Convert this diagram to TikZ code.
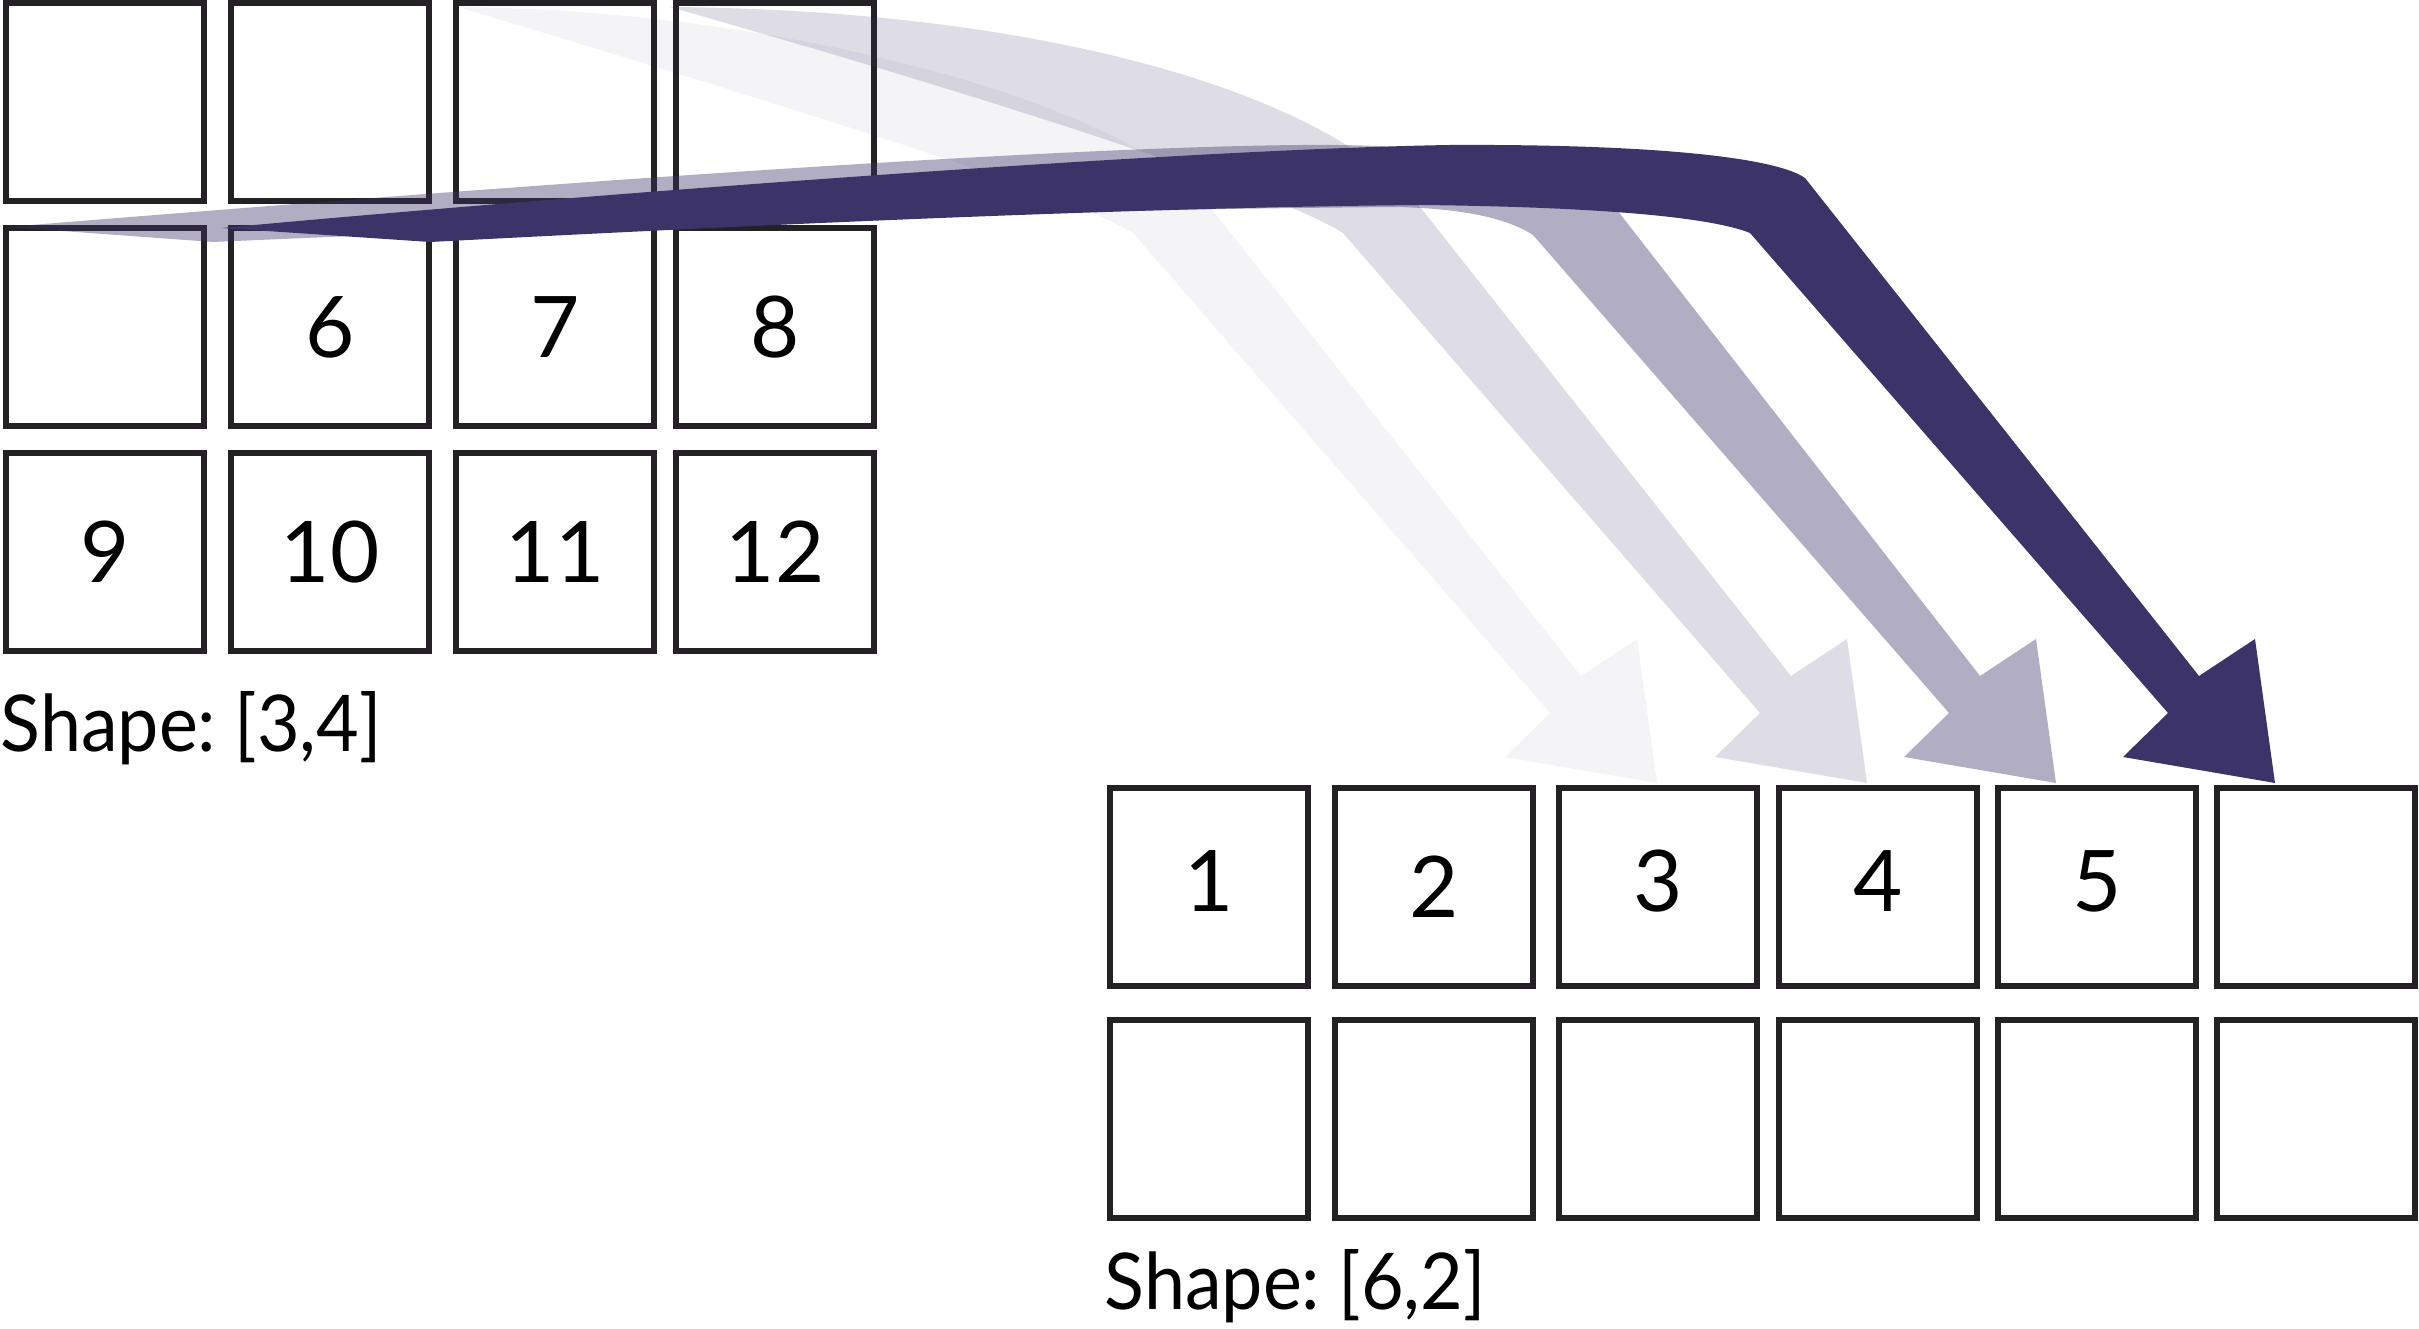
\documentclass[tikz,border=0pt]{standalone}
\usepackage{fontspec}
\setmainfont{Lato}
\newfontfamily\labelfont{Lato}[FakeStretch=0.94]
\definecolor{arrowpurple}{RGB}{60,52,104}
\definecolor{boxline}{RGB}{35,33,36}
\begin{document}
\begin{tikzpicture}[x=0.3pt,y=-0.3pt,
  cell/.style={draw=boxline, line width=1.8pt, minimum width=59.4pt, minimum height=59.4pt,
    inner sep=0pt, outer sep=0pt, font=\fontsize{25.5pt}{30pt}\selectfont},
  shapelabel/.style={anchor=base west, inner sep=0pt, font=\labelfont\fontsize{23.5pt}{28pt}\selectfont},
  arrowA/.style={fill=arrowpurple, fill opacity=0.055},
  arrowB/.style={fill=arrowpurple, fill opacity=0.17},
  arrowC/.style={fill=arrowpurple, fill opacity=0.4},
  arrowD/.style={fill=arrowpurple}]
\useasboundingbox (0,0) rectangle (2419,1329);

% source grid, shape [3,4]
\node[cell] (a1)  at (105,102) {};
\node[cell] (a2)  at (330,102) {};
\node[cell] (a3)  at (555,102) {};
\node[cell] (a4)  at (775,102) {};
\node[cell] (a5)  at (105,327) {};
\node[cell] (a6)  at (330,327) {6};
\node[cell] (a7)  at (555,327) {7};
\node[cell] (a8)  at (775,327) {8};
\node[cell] (a9)  at (105,552) {9};
\node[cell] (a10) at (330,552) {10};
\node[cell] (a11) at (555,552) {11};
\node[cell] (a12) at (775,552) {12};

% target grid, shape [6,2]
\node[cell] (b1)  at (1209,887) {\raisebox{3.6pt}{1}};
\node[cell] (b2)  at (1434,887) {2};
\node[cell] (b3)  at (1658,887) {\raisebox{3.6pt}{3}};
\node[cell] (b4)  at (1878,887) {\raisebox{3.6pt}{4}};
\node[cell] (b5)  at (2097,887) {\raisebox{3.6pt}{5}};
\node[cell] (b6)  at (2316,887) {};
\node[cell] (b7)  at (1209,1119) {};
\node[cell] (b8)  at (1434,1119) {};
\node[cell] (b9)  at (1658,1119) {};
\node[cell] (b10) at (1878,1119) {};
\node[cell] (b11) at (2097,1119) {};
\node[cell] (b12) at (2316,1119) {};

% arrow ends
\coordinate (t1) at (458,7);
\coordinate (t2) at (670,7);
\coordinate (t3) at (7,227);
\coordinate (t4) at (222,228);
\coordinate (h1) at (1657,783);
\coordinate (h2) at (1867,783);
\coordinate (h3) at (2056,783);
\coordinate (h4) at (2275,783);

% lightest arrow
\fill[arrowA] (t1) .. controls (800,10) and (1140,110) .. (1210,207) -- (1581,676) -- (1637,639)
  -- (h1) -- (1505,757) -- (1550,713) -- (1133,233) .. controls (1080,200) and (900,140) .. (t1) -- cycle;
% light arrow
\fill[arrowB] (t2) .. controls (1050,10) and (1330,95) .. (1420,207) -- (1791,676) -- (1847,639)
  -- (h2) -- (1715,757) -- (1760,713) -- (1343,233) .. controls (1290,200) and (1100,130) .. (t2) -- cycle;
% medium arrow
\fill[arrowC] (t3) .. controls (400,195) and (1000,148) .. (1300,145)
  .. controls (1480,143) and (1580,170) .. (1617,210) -- (1980,676) -- (2036,639)
  -- (h3) -- (1904,757) -- (1949,713) -- (1533,235)
  .. controls (1505,217) and (1460,209) .. (1400,207)
  .. controls (1000,210) and (600,225) .. (213,242) -- cycle;
% dark arrow
\fill[arrowD] (t4) .. controls (500,202) and (1150,150) .. (1450,145)
  .. controls (1650,144) and (1775,157) .. (1805,178) -- (2199,676) -- (2255,639)
  -- (h4) -- (2123,757) -- (2168,713) -- (1750,233)
  .. controls (1710,217) and (1600,207) .. (1420,205)
  .. controls (1100,208) and (700,228) .. (430,242) -- cycle;

% labels
\node[shapelabel] (lab1) at (0,752) {Shape:\kern5.5pt[3,4]};
\node[shapelabel] (lab2) at (1104,1310) {Shape:\kern5.5pt[6,2]};
\end{tikzpicture}
\end{document}
